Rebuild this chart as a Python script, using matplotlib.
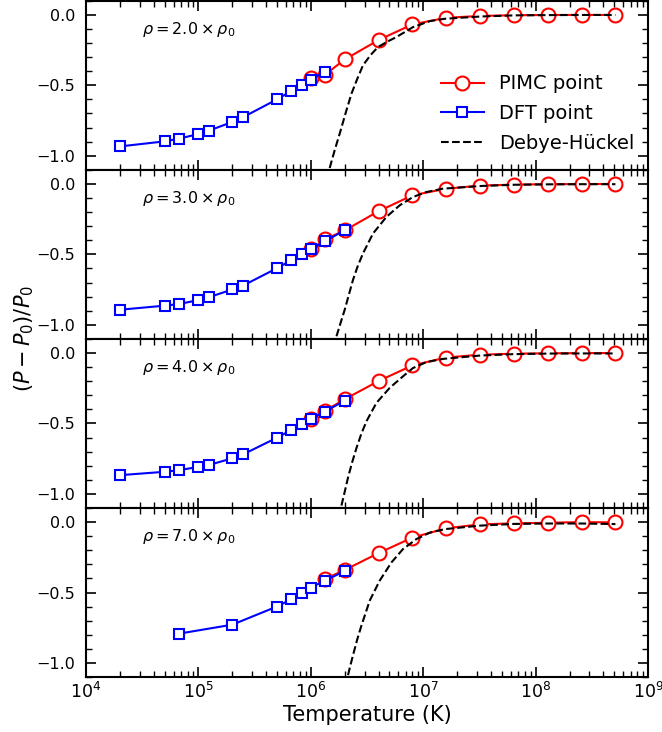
import matplotlib
matplotlib.use("Agg")
import matplotlib.pyplot as plt
from matplotlib.ticker import MultipleLocator, LogLocator, NullFormatter

# ---------------- data ----------------
densities = ["2.0", "3.0", "4.0", "7.0"]

pimc_T_all = [1e6, 1.33e6, 2e6, 4e6, 8e6, 1.6e7, 3.2e7, 6.4e7, 1.28e8, 2.56e8, 5.12e8]
pimc_T_p4 = [1.33e6, 2e6, 4e6, 8e6, 1.6e7, 3.2e7, 6.4e7, 1.28e8, 2.56e8, 5.12e8]

pimc_p1 = [-0.450, -0.426, -0.317, -0.179, -0.068, -0.021, -0.008, -0.003, -0.001, -0.001, -0.001]
pimc_p2 = [-0.465, -0.394, -0.330, -0.194, -0.081, -0.034, -0.012, -0.005, -0.002, -0.001, 0.000]
pimc_p3 = [-0.467, -0.411, -0.328, -0.199, -0.088, -0.032, -0.012, -0.005, -0.002, -0.001, 0.000]
pimc_p4 = [-0.404, -0.340, -0.220, -0.110, -0.044, -0.016, -0.009, -0.005, 0.000, -0.002]

dft_T_p1 = [2e4, 5e4, 6.67e4, 1e5, 1.25e5, 2e5, 2.5e5, 5e5, 6.67e5, 8.33e5, 1e6, 1.33e6]
dft_T_p23 = [2e4, 5e4, 6.67e4, 1e5, 1.25e5, 2e5, 2.5e5, 5e5, 6.67e5, 8.33e5, 1e6, 1.33e6, 2e6]
dft_T_p4 = [6.67e4, 2e5, 5e5, 6.67e5, 8.33e5, 1e6, 1.33e6, 2e6]

dft_p1 = [-0.934, -0.898, -0.879, -0.846, -0.821, -0.760, -0.726, -0.600, -0.541, -0.496, -0.460, -0.403]
dft_p2 = [-0.893, -0.864, -0.853, -0.824, -0.803, -0.749, -0.721, -0.598, -0.542, -0.495, -0.462, -0.408, -0.328]
dft_p3 = [-0.867, -0.843, -0.832, -0.808, -0.794, -0.747, -0.719, -0.601, -0.547, -0.502, -0.467, -0.416, -0.338]
dft_p4 = [-0.792, -0.728, -0.599, -0.548, -0.500, -0.465, -0.416, -0.347]

dh_T_p1 = [1.47e6, 1.63e6, 1.81e6, 2.05e6, 2.30e6, 2.60e6, 2.91e6, 3.40e6, 3.95e6, 4.80e6, 5.76e6, 8.09e6, 1.14e7, 1.55e7, 3.2e7, 6.4e7, 1.28e8, 2.56e8, 5.12e8]
dh_p1 = [-1.087, -0.960, -0.840, -0.690, -0.558, -0.450, -0.358, -0.285, -0.229, -0.190, -0.158, -0.0875, -0.045, -0.028, -0.012, -0.004, -0.002, -0.001, -0.001]
dh_T_p2 = [1.69e6, 1.84e6, 2.0e6, 2.18e6, 2.37e6, 2.62e6, 2.91e6, 3.57e6, 4.70e6, 6.17e6, 8.09e6, 1.06e7, 1.49e7, 3.2e7, 6.4e7, 1.28e8, 2.56e8, 5.12e8]
dh_p2 = [-1.081, -0.985, -0.893, -0.785, -0.681, -0.580, -0.493, -0.352, -0.234, -0.152, -0.093, -0.058, -0.034, -0.015, -0.006, -0.003, -0.002, -0.002]
dh_T_p3 = [1.87e6, 2.0e6, 2.14e6, 2.33e6, 2.55e6, 2.82e6, 3.13e6, 3.83e6, 5.02e6, 6.59e6, 8.09e6, 1.06e7, 1.49e7, 3.2e7, 6.4e7, 1.28e8, 2.56e8, 5.12e8]
dh_p3 = [-1.083, -0.985, -0.884, -0.775, -0.672, -0.570, -0.483, -0.354, -0.248, -0.166, -0.107, -0.065, -0.042, -0.018, -0.008, -0.004, -0.003, -0.003]
dh_T_p4 = [2.14e6, 2.25e6, 2.37e6, 2.58e6, 2.82e6, 3.34e6, 4.09e6, 5.20e6, 6.59e6, 8.67e6, 1.14e7, 1.55e7, 3.2e7, 6.4e7, 1.28e8, 2.56e8, 5.12e8]
dh_p4 = [-1.086, -1.015, -0.945, -0.835, -0.733, -0.557, -0.416, -0.287, -0.192, -0.121, -0.075, -0.050, -0.025, -0.013, -0.010, -0.010, -0.014]

panels = [
    (pimc_T_all, pimc_p1, dft_T_p1, dft_p1, dh_T_p1, dh_p1),
    (pimc_T_all, pimc_p2, dft_T_p23, dft_p2, dh_T_p2, dh_p2),
    (pimc_T_all, pimc_p3, dft_T_p23, dft_p3, dh_T_p3, dh_p3),
    (pimc_T_p4, pimc_p4, dft_T_p4, dft_p4, dh_T_p4, dh_p4),
]

# ---------------- plot ----------------
fig, axes = plt.subplots(4, 1, sharex=True, figsize=(6.62, 7.32), dpi=100)
fig.subplots_adjust(left=0.130, right=0.979, bottom=0.075, top=0.999, hspace=0)

for i, (ax, (pt, pv, dt, dv, ht, hv)) in enumerate(zip(axes, panels)):
    ax.plot(pt, pv, '-o', color='red', markerfacecolor='white', markeredgecolor='red',
            markersize=10, markeredgewidth=1.5, linewidth=1.5, label='PIMC point', zorder=3)
    ax.plot(dt, dv, '-s', color='blue', markerfacecolor='white', markeredgecolor='blue',
            markersize=6.5, markeredgewidth=1.5, linewidth=1.5, label='DFT point', zorder=4)
    ax.plot(ht, hv, '--', color='black', linewidth=1.5, label='Debye-Hückel', zorder=5)
    ax.set_xscale('log')
    ax.set_xlim(1e4, 1e9)
    ax.set_ylim(-1.1, 0.1)
    ax.yaxis.set_major_locator(MultipleLocator(0.5))
    ax.yaxis.set_minor_locator(MultipleLocator(0.1))
    ax.xaxis.set_major_locator(LogLocator(base=10, numticks=10))
    ax.xaxis.set_minor_locator(LogLocator(base=10, subs=range(2, 10), numticks=20))
    ax.xaxis.set_minor_formatter(NullFormatter())
    ax.tick_params(which='both', direction='in', top=True, right=True)
    ax.tick_params(which='major', length=7, width=1.2)
    ax.tick_params(which='minor', length=4, width=1.0)
    ax.tick_params(axis='y', labelsize=11.5, pad=8)
    ax.tick_params(axis='x', labelsize=12.5)
    for s in ax.spines.values():
        s.set_linewidth(1.5)
    ax.text(0.10, 0.83, r'$\rho = %s \times \rho_0$' % densities[i], transform=ax.transAxes,
            fontsize=11.5, ha='left', va='center')

axes[0].legend(loc='lower right', bbox_to_anchor=(1.0, 0.02), frameon=False, fontsize=14,
               handlelength=2.2, labelspacing=0.55, borderaxespad=0.3)
axes[-1].set_xlabel('Temperature (K)', fontsize=15, labelpad=2)
fig.text(0.036, (0.075 + 0.999) / 2, r'$(P-P_0)/P_0$', rotation=90, fontsize=15,
         ha='center', va='center')

fig.savefig('out.png', dpi=100)
